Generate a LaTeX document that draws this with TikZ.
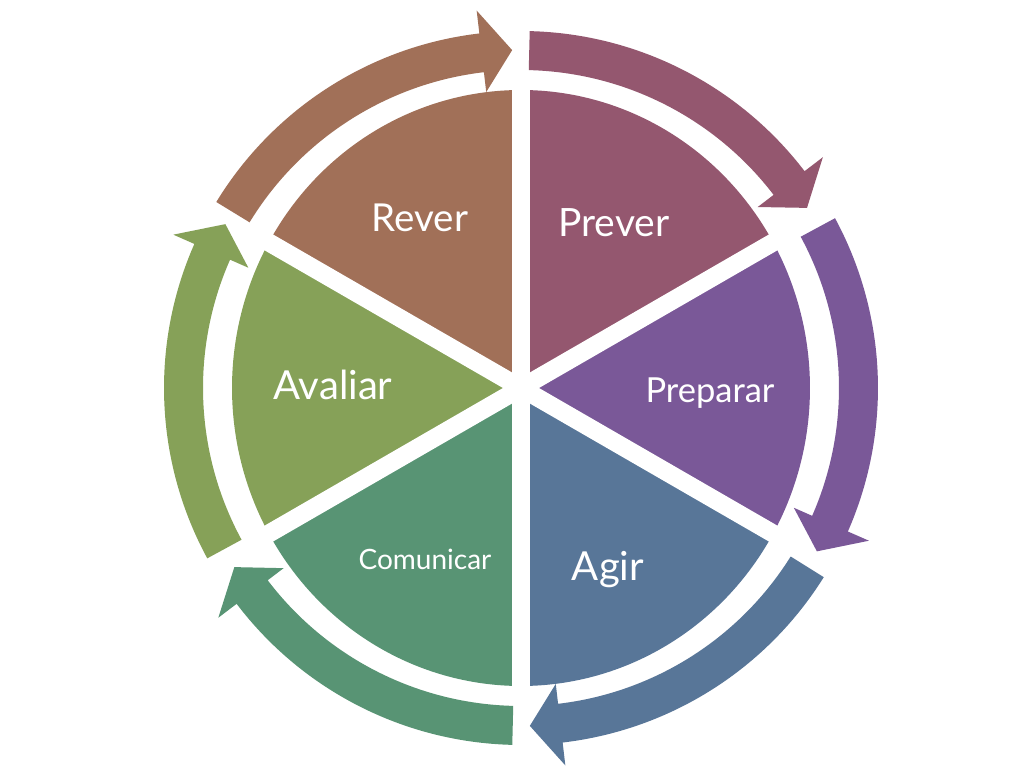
\documentclass[tikz,border=0pt]{standalone}
\usepackage{fontspec}
\setmainfont{Lato}
\definecolor{cRever}{RGB}{161,112,88}
\definecolor{cPrever}{RGB}{148,87,111}
\definecolor{cPreparar}{RGB}{122,88,152}
\definecolor{cAgir}{RGB}{88,118,152}
\definecolor{cComunicar}{RGB}{88,148,116}
\definecolor{cAvaliar}{RGB}{134,161,88}
\newcommand\mysector[3]{\fill[#3] (0,0) -- ({289*cos(#1)},{298*sin(#1)}) arc[start angle=#1, end angle=#2, x radius=289pt, y radius=298pt] -- cycle;}
\newcommand\myarrow[3]{\fill[#3] ({#1}:318pt) arc[start angle={#1}, end angle={#2+5.2}, radius=318pt] -- ({#2+5.2}:298pt) -- ({#2}:338pt) -- ({#2+5.2}:380pt) -- ({#2+5.2}:357pt) arc[start angle={#2+5.2}, end angle={#1}, radius=357pt] -- cycle;}
\begin{document}
\begin{tikzpicture}[x=1pt,y=1pt,
  lbl/.style={text=white, anchor=base, inner sep=0pt},
  gapline/.style={white, line width=18pt}]
\useasboundingbox[fill=white] (-521,-393) rectangle (492,388);
% wedges
\mysector{29.24}{90}{cPrever}
\mysector{-29.24}{29.24}{cPreparar}
\mysector{-90}{-29.24}{cAgir}
\mysector{-150.76}{-90}{cComunicar}
\mysector{150.76}{209.24}{cAvaliar}
\mysector{90}{150.76}{cRever}
\draw[gapline] (90:302pt) -- (-90:302pt);
\draw[gapline] (30:302pt) -- (210:302pt);
\draw[gapline] (150:302pt) -- (-30:302pt);
% arrows
\myarrow{148.6}{91.5}{cRever}
\myarrow{88.6}{32.2}{cPrever}
\myarrow{28.4}{-28.9}{cPreparar}
\myarrow{-32}{-88.5}{cAgir}
\myarrow{-91.4}{-148}{cComunicar}
\myarrow{-151.5}{-209}{cAvaliar}
% labels
\node[lbl, font=\fontsize{38.5}{38.5}\selectfont] (rever) at (-101,156) {Rever};
\node[lbl, font=\fontsize{39}{39}\selectfont] (prever) at (93,151) {Prever};
\node[lbl, font=\fontsize{34.5}{34.5}\selectfont] (preparar) at (710-521,-15) {Preparar};
\node[lbl, font=\fontsize{40}{40}\selectfont] (agir) at (87,-193) {Agir};
\node[lbl, font=\fontsize{28}{28}\selectfont] (comunicar) at (-96,-182) {Comunicar};
\node[lbl, font=\fontsize{40}{40}\selectfont] (avaliar) at (-188,-12) {Avaliar};
\end{tikzpicture}
\end{document}
